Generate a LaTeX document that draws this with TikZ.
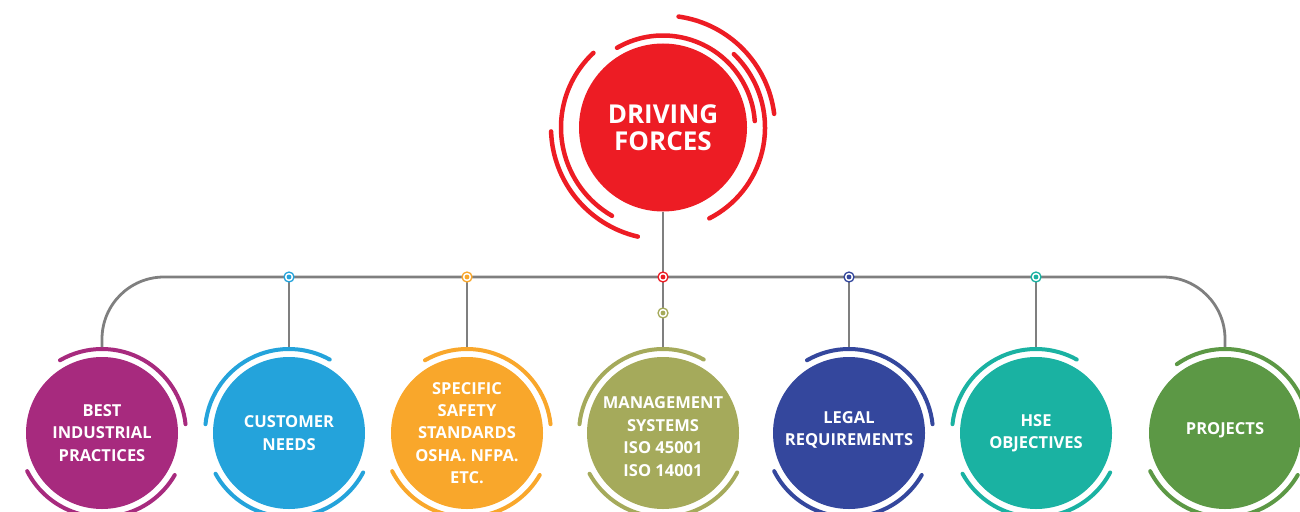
\documentclass[tikz,border=0pt]{standalone}
\usepackage{fontspec}
\setmainfont{Open Sans}
\definecolor{drvred}{HTML}{ED1C24}
\definecolor{bestpurple}{HTML}{A72A7E}
\definecolor{custblue}{HTML}{24A3DB}
\definecolor{safeorange}{HTML}{F9A72B}
\definecolor{mgmtolive}{HTML}{A5AA5B}
\definecolor{legalnavy}{HTML}{34479D}
\definecolor{hseteal}{HTML}{1AB2A2}
\definecolor{projgreen}{HTML}{5C9845}
\definecolor{linegray}{HTML}{7F7F7F}
\tikzset{
  bubble/.style={circle, fill=#1, minimum size=152pt, inner sep=0pt, outer sep=10pt, text=white, align=center, font=\bfseries\fontsize{16.5}{22.4}\selectfont},
  ring/.style={draw=#1, line width=4pt, line cap=round},
  link/.style={draw=linegray, line width=2.8pt},
  dot/.style={circle, draw=#1, fill=white, line width=1.3pt, inner sep=0pt, minimum size=10pt, path picture={\fill[#1] (path picture bounding box.center) circle (2.4pt);}},
}
\begin{document}
\begin{tikzpicture}[x=1pt, y=1pt]
\useasboundingbox (0,0) rectangle (1300,-511);
\clip (0,0) rectangle (1300,-511);
% the seven branches
\node[bubble=bestpurple] (best) at (102,-433) {BEST\\INDUSTRIAL\\PRACTICES};
\node[bubble=custblue] (needs) at (289,-433) {CUSTOMER\\NEEDS};
\node[bubble=safeorange] (safety) at (467,-433) {SPECIFIC\\SAFETY\\STANDARDS\\OSHA. NFPA.\\ETC.};
\node[bubble=mgmtolive] (mgmt) at (663,-433) {\raisebox{-5pt}[\height][\depth]{\begin{tabular}{@{}c@{}}MANAGEMENT\\SYSTEMS\\ISO 45001\\ISO 14001\end{tabular}}};
\node[bubble=legalnavy] (legal) at (849,-433) {\raisebox{3pt}[\height][\depth]{\begin{tabular}{@{}c@{}}LEGAL\\REQUIREMENTS\end{tabular}}};
\node[bubble=hseteal] (hse) at (1036,-433) {HSE\\OBJECTIVES};
\node[bubble=projgreen] (proj) at (1225,-433) {\raisebox{3pt}[\height][\depth]{PROJECTS}};
% rings round the branches
\draw[ring=bestpurple] (best) ++(120:84pt) arc[start angle=120, end angle=6, radius=84pt];
\draw[ring=bestpurple] (best) ++(207:84pt) arc[start angle=207, end angle=330, radius=84pt];
\draw[ring=custblue] (needs) ++(174:84pt) arc[start angle=174, end angle=61, radius=84pt];
\draw[ring=custblue] (needs) ++(209:84pt) arc[start angle=209, end angle=332, radius=84pt];
\draw[ring=safeorange] (safety) ++(120:84pt) arc[start angle=120, end angle=6, radius=84pt];
\draw[ring=safeorange] (safety) ++(207:84pt) arc[start angle=207, end angle=330, radius=84pt];
\draw[ring=mgmtolive] (mgmt) ++(174:84pt) arc[start angle=174, end angle=61, radius=84pt];
\draw[ring=mgmtolive] (mgmt) ++(209:84pt) arc[start angle=209, end angle=332, radius=84pt];
\draw[ring=legalnavy] (legal) ++(120:84pt) arc[start angle=120, end angle=6, radius=84pt];
\draw[ring=legalnavy] (legal) ++(207:84pt) arc[start angle=207, end angle=330, radius=84pt];
\draw[ring=hseteal] (hse) ++(174:84pt) arc[start angle=174, end angle=61, radius=84pt];
\draw[ring=hseteal] (hse) ++(209:84pt) arc[start angle=209, end angle=332, radius=84pt];
\draw[ring=projgreen] (proj) ++(125:84pt) arc[start angle=125, end angle=6, radius=84pt];
\draw[ring=projgreen] (proj) ++(207:84pt) arc[start angle=207, end angle=330, radius=84pt];
% the root
\node[circle, fill=drvred, minimum size=168pt, inner sep=0pt, text=white, align=center, font=\bfseries\fontsize{26}{27}\selectfont] (drive) at (663,-127.5) {DRIVING\\FORCES};
\draw[ring=drvred, line width=4.5pt] (drive) ++(120:92pt) arc[start angle=120, end angle=4, radius=92pt];
\draw[ring=drvred, line width=4.5pt] (drive) ++(46:102pt) arc[start angle=46, end angle=-63, radius=102pt];
\draw[ring=drvred, line width=4.5pt] (drive) ++(133:102pt) arc[start angle=133, end angle=240, radius=102pt];
\draw[ring=drvred, line width=4.5pt] (drive) ++(82:112pt) arc[start angle=82, end angle=7, radius=112pt];
\draw[ring=drvred, line width=4.5pt] (drive) ++(182:112pt) arc[start angle=182, end angle=257, radius=112pt];
% bus and drops
\coordinate (bus) at (663,-277);
\draw[link, rounded corners=62pt] (best.north) |- (bus) -| (proj.north);
\draw[link] (drive.south) -- (mgmt.north);
\draw[link] (needs.north) -- (needs.north |- bus);
\draw[link] (safety.north) -- (safety.north |- bus);
\draw[link] (legal.north) -- (legal.north |- bus);
\draw[link] (hse.north) -- (hse.north |- bus);
\node[dot=custblue] (dneeds) at (needs.north |- bus) {};
\node[dot=safeorange] (dsafety) at (safety.north |- bus) {};
\node[dot=drvred] (ddrive) at (bus) {};
\node[dot=legalnavy] (dlegal) at (legal.north |- bus) {};
\node[dot=hseteal] (dhse) at (hse.north |- bus) {};
\node[dot=mgmtolive] (dmgmt) at (663,-313) {};
\end{tikzpicture}
\end{document}
